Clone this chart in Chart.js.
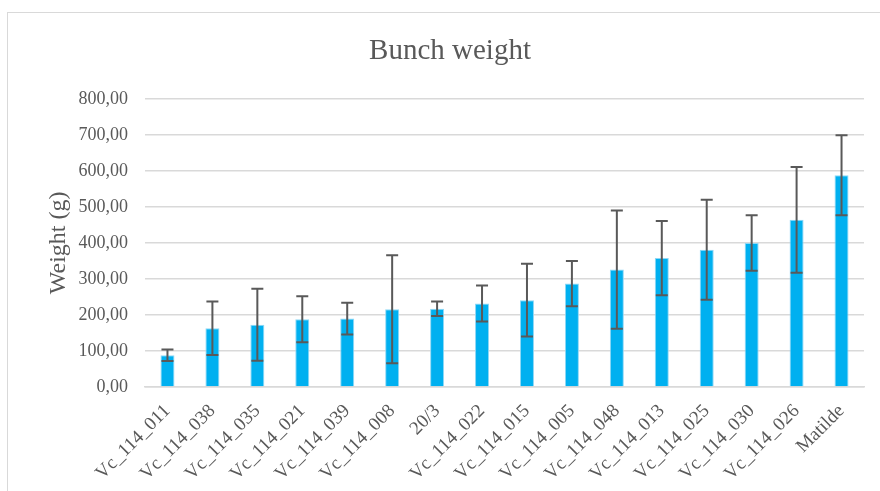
<!DOCTYPE html>
<html>
<head>
<meta charset="utf-8">
<script src="https://cdn.jsdelivr.net/npm/chart.js@4/dist/chart.umd.min.js"></script>
<style>
  html, body { margin: 0; padding: 0; background: #ffffff; overflow: hidden; }
  #wrap { position: relative; width: 880px; height: 491px; }
  #frame { position: absolute; left: 7px; top: 12px; width: 900px; height: 500px; border: 1px solid #d9d9d9; box-sizing: border-box; }
  canvas { position: absolute; left: 0; top: 0; }
</style>
</head>
<body>
<div id="wrap">
  <div id="frame"></div>
  <canvas id="c" width="880" height="491"></canvas>
</div>
<script>
const categories = ["Vc_114_011", "Vc_114_038", "Vc_114_035", "Vc_114_021", "Vc_114_039", "Vc_114_008", "20/3", "Vc_114_022", "Vc_114_015", "Vc_114_005", "Vc_114_048", "Vc_114_013", "Vc_114_025", "Vc_114_030", "Vc_114_026", "Matilde"];
const weights = [88, 163, 173, 188, 190, 216, 217, 232, 241, 287, 326, 358, 381, 400, 464, 588];
const errors = [16, 74, 100, 64, 44, 150, 20, 50, 101, 63, 164, 103, 139, 77, 147, 111];
const yTicks = [0, 100, 200, 300, 400, 500, 600, 700, 800];

const textColor = '#595959';
const serif = "'Liberation Serif', 'Times New Roman', serif";

const errorBars = {
  id: 'errorBars',
  afterDatasetsDraw(chart) {
    const meta = chart.getDatasetMeta(0);
    const y = chart.scales.y;
    const ctx = chart.ctx;
    ctx.save();
    ctx.strokeStyle = '#595959';
    ctx.lineWidth = 2;
    meta.data.forEach((bar, i) => {
      const v = weights[i], e = errors[i];
      const top = y.getPixelForValue(v + e);
      const bot = y.getPixelForValue(v - e);
      const x = bar.x;
      const cap = 6;
      ctx.beginPath();
      ctx.moveTo(x, top); ctx.lineTo(x, bot);
      ctx.moveTo(x - cap, top); ctx.lineTo(x + cap, top);
      ctx.moveTo(x - cap, bot); ctx.lineTo(x + cap, bot);
      ctx.stroke();
    });
    ctx.restore();
  }
};

new Chart(document.getElementById('c'), {
  type: 'bar',
  data: {
    labels: categories,
    datasets: [{
      label: 'Bunch weight',
      data: weights,
      backgroundColor: '#00B0F0',
      borderColor: '#8fd8f5',
      borderWidth: 1,
      barPercentage: 0.39,
      categoryPercentage: 0.8
    }]
  },
  options: {
    responsive: false,
    animation: false,
    layout: { padding: { left: 36, right: 16, top: 0, bottom: 0 } },
    plugins: {
      legend: { display: false },
      tooltip: { enabled: false },
      title: {
        display: true,
        text: 'Bunch weight',
        color: textColor,
        font: { family: serif, size: 29, weight: 'normal' },
        padding: { top: 34, bottom: 30 }
      }
    },
    scales: {
      x: {
        grid: { display: false, drawTicks: false },
        border: { display: true, color: '#d9d9d9', width: 1.5 },
        ticks: {
          color: textColor,
          font: { family: serif, size: 19 },
          minRotation: 45,
          maxRotation: 45,
          autoSkip: false,
          padding: 13
        },
        afterFit(scale) { scale.height = 104; }
      },
      y: {
        min: 0,
        max: 800,
        afterBuildTicks(scale) { scale.ticks = yTicks.map(v => ({ value: v })); },
        grid: { color: '#d9d9d9', lineWidth: 1.5, drawTicks: false },
        border: { display: false },
        ticks: {
          color: textColor,
          font: { family: serif, size: 18 },
          padding: 17,
          callback: (v) => Number(v).toFixed(2).replace('.', ',')
        },
        title: {
          display: true,
          text: 'Weight (g)',
          color: textColor,
          font: { family: serif, size: 24 },
          padding: { top: 8, bottom: 0 }
        },
        afterFit(scale) { scale.width = 109; }
      }
    }
  },
  plugins: [errorBars]
});
</script>
</body>
</html>
